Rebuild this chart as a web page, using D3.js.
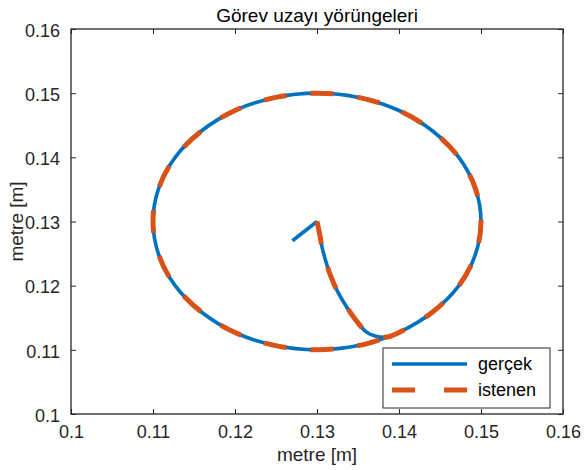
<!DOCTYPE html>
<html>
<head>
<meta charset="utf-8">
<script src="https://cdn.jsdelivr.net/npm/d3@7"></script>
<style>
  html, body { margin: 0; padding: 0; background: #fff; }
  svg { display: block; font-family: "Liberation Sans", Arial, Helvetica, sans-serif; }
</style>
</head>
<body>
<svg id="chart" width="585" height="470"></svg>
<script>
// ---- data ----
const titleText = "Görev uzayı yörüngeleri";
const xLabelText = "metre [m]";
const yLabelText = "metre [m]";
const seriesNames = ["gerçek", "istenen"];

const xTicks = [0.10, 0.11, 0.12, 0.13, 0.14, 0.15, 0.16];
const xTickLabels = ["0.1", "0.11", "0.12", "0.13", "0.14", "0.15", "0.16"];
const yTicks = [0.10, 0.11, 0.12, 0.13, 0.14, 0.15, 0.16];
const yTickLabels = ["0.1", "0.11", "0.12", "0.13", "0.14", "0.15", "0.16"];

// desired trajectory ("istenen"): transient from start to the circle, then one revolution
const desiredX = [0.1300, 0.1303, 0.1306, 0.1311, 0.1317, 0.1325, 0.1336, 0.1347, 0.1360, 0.1372, 0.1386,
  0.1400, 0.1441, 0.1473, 0.1493, 0.1500, 0.1493, 0.1473, 0.1441, 0.1400, 0.1352, 0.1300,
  0.1248, 0.1200, 0.1159, 0.1127, 0.1107, 0.1100, 0.1107, 0.1127, 0.1159, 0.1200, 0.1248,
  0.1300, 0.1352, 0.1386];
const desiredY = [0.1300, 0.1282, 0.1261, 0.1237, 0.1214, 0.1191, 0.1167, 0.1147, 0.1128, 0.1121, 0.1120,
  0.1127, 0.1159, 0.1200, 0.1248, 0.1300, 0.1352, 0.1400, 0.1441, 0.1473, 0.1493, 0.1500,
  0.1493, 0.1473, 0.1441, 0.1400, 0.1352, 0.1300, 0.1248, 0.1200, 0.1159, 0.1127, 0.1107,
  0.1100, 0.1107, 0.1120];

// actual trajectory ("gerçek"): starts off the path, then follows the desired one
const actualStartX = [0.1270, 0.1300];
const actualStartY = [0.1270, 0.1300];
const actualX = desiredX;
const actualY = desiredY;

const colors = ["#0072BD", "#D95319"];

// ---- layout ----
const plot = { left: 71, right: 563, top: 29, bottom: 414 };
const axisColor = "#262626";

const svg = d3.select("#chart");

const x = d3.scaleLinear().domain([0.1, 0.16]).range([plot.left, plot.right]);
const y = d3.scaleLinear().domain([0.1, 0.16]).range([plot.bottom, plot.top]);

svg.append("defs").append("clipPath").attr("id", "clip")
  .append("rect").attr("x", plot.left).attr("y", plot.top)
  .attr("width", plot.right - plot.left).attr("height", plot.bottom - plot.top);

svg.append("rect").attr("x", plot.left).attr("y", plot.top)
  .attr("width", plot.right - plot.left).attr("height", plot.bottom - plot.top)
  .attr("fill", "#fff");

const zipPts = (xs, ys) => xs.map((v, i) => [v, ys[i]]);

const lineSmooth = d3.line().x(d => x(d[0])).y(d => y(d[1])).curve(d3.curveCatmullRom.alpha(0.5));
const lineStraight = d3.line().x(d => x(d[0])).y(d => y(d[1]));

const gLines = svg.append("g").attr("clip-path", "url(#clip)");

// actual (solid blue)
gLines.append("path").attr("d", lineStraight(zipPts(actualStartX, actualStartY)))
  .attr("fill", "none").attr("stroke", colors[0]).attr("stroke-width", 3.6).attr("stroke-linecap", "butt");
gLines.append("path").attr("d", lineSmooth(zipPts(actualX, actualY)))
  .attr("fill", "none").attr("stroke", colors[0]).attr("stroke-width", 3.6).attr("stroke-linejoin", "round");

// desired (dashed orange)
gLines.append("path").attr("d", lineSmooth(zipPts(desiredX, desiredY)))
  .attr("fill", "none").attr("stroke", colors[1]).attr("stroke-width", 5)
  .attr("stroke-dasharray", "23,24").attr("stroke-linecap", "butt");

// axes (MATLAB style box with inward ticks)
const tickLen = 5;
const fontTick = 18;

const xAxisB = d3.axisBottom(x).tickValues(xTicks).tickSizeInner(-tickLen).tickSizeOuter(0)
  .tickFormat((d, i) => xTickLabels[i]).tickPadding(11);
const xAxisT = d3.axisTop(x).tickValues(xTicks).tickSizeInner(-tickLen).tickSizeOuter(0).tickFormat("");
const yAxisL = d3.axisLeft(y).tickValues(yTicks).tickSizeInner(-tickLen).tickSizeOuter(0)
  .tickFormat((d, i) => yTickLabels[i]).tickPadding(11);
const yAxisR = d3.axisRight(y).tickValues(yTicks).tickSizeInner(-tickLen).tickSizeOuter(0).tickFormat("");

function styleAxis(g) {
  g.select(".domain").remove();
  g.selectAll(".tick line").attr("stroke", axisColor).attr("stroke-width", 1);
  g.selectAll(".tick text").attr("fill", axisColor).attr("font-size", fontTick)
    .attr("font-family", "Liberation Sans, Arial, sans-serif");
}

svg.append("g").attr("transform", `translate(0,${plot.bottom})`).call(xAxisB).call(styleAxis);
svg.append("g").attr("transform", `translate(0,${plot.top})`).call(xAxisT).call(styleAxis);
svg.append("g").attr("transform", `translate(${plot.left},0)`).call(yAxisL).call(styleAxis)
  .selectAll(".tick text").attr("dy", "0.4em");
svg.append("g").attr("transform", `translate(${plot.right},0)`).call(yAxisR).call(styleAxis);

svg.append("rect").attr("x", plot.left).attr("y", plot.top)
  .attr("width", plot.right - plot.left).attr("height", plot.bottom - plot.top)
  .attr("fill", "none").attr("stroke", axisColor).attr("stroke-width", 1.3);

// title and labels
svg.append("text").attr("x", (plot.left + plot.right) / 2).attr("y", 22)
  .attr("text-anchor", "middle").attr("font-size", 19).attr("fill", "#000").text(titleText);
svg.append("text").attr("x", (plot.left + plot.right) / 2).attr("y", 461)
  .attr("text-anchor", "middle").attr("font-size", 19).attr("fill", axisColor).text(xLabelText);
svg.append("text").attr("transform", `translate(23,${(plot.top + plot.bottom) / 2}) rotate(-90)`)
  .attr("text-anchor", "middle").attr("font-size", 19).attr("fill", axisColor).text(yLabelText);

// legend
const leg = { x: 383, y: 348, w: 167, h: 60 };
const gLeg = svg.append("g");
gLeg.append("rect").attr("x", leg.x).attr("y", leg.y).attr("width", leg.w).attr("height", leg.h)
  .attr("fill", "#fff").attr("stroke", axisColor).attr("stroke-width", 1);
const legRows = [
  { name: seriesNames[0], color: colors[0], width: 3.6, dash: null, yy: 364 },
  { name: seriesNames[1], color: colors[1], width: 5, dash: "23,29", yy: 390 }
];
legRows.forEach(r => {
  gLeg.append("line").attr("x1", 392).attr("x2", 467).attr("y1", r.yy).attr("y2", r.yy)
    .attr("stroke", r.color).attr("stroke-width", r.width)
    .attr("stroke-dasharray", r.dash);
  gLeg.append("text").attr("x", 478).attr("y", r.yy).attr("dy", "0.35em")
    .attr("font-size", 18).attr("fill", "#000").text(r.name);
});
</script>
</body>
</html>
